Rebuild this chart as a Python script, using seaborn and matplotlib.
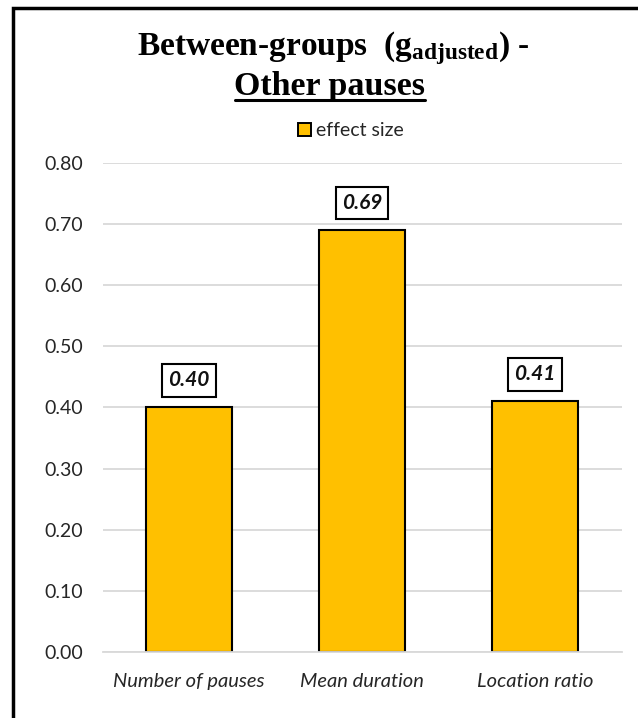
import matplotlib
matplotlib.use("Agg")
import matplotlib.pyplot as plt
import matplotlib.patches as mpatches
from matplotlib.lines import Line2D
import pandas as pd
import seaborn as sns

categories = ["Number of pauses", "Mean duration", "Location ratio"]
effect_size = [0.40, 0.69, 0.41]
y_ticks = [0.0, 0.1, 0.2, 0.3, 0.4, 0.5, 0.6, 0.7, 0.8]
series_name = "effect size"

BAR_COLOR = "#FFC000"
GRID_COLOR = "#D9D9D9"
TEXT_COLOR = "#262626"

sns.set_theme(style="white")
plt.rcParams["font.family"] = ["Lato", "DejaVu Sans"]
plt.rcParams["mathtext.fontset"] = "custom"
plt.rcParams["mathtext.rm"] = "Liberation Serif:bold"
plt.rcParams["mathtext.it"] = "Liberation Serif:bold"
plt.rcParams["mathtext.bf"] = "Liberation Serif:bold"

W, H = 638, 718
fig = plt.figure(figsize=(W / 100, H / 100), dpi=100)
fig.patch.set_facecolor("white")

ax = fig.add_axes([102.5 / W, (H - 652) / H, 519 / W, 489 / H])

df = pd.DataFrame({"category": categories, "value": effect_size})
sns.barplot(data=df, x="category", y="value", color=BAR_COLOR, width=0.5,
            edgecolor="black", linewidth=1.5, saturation=1, ax=ax)

ax.set_ylim(0, 0.8)
ax.set_xlim(-0.5, len(categories) - 0.5)
ax.set_yticks(y_ticks)
ax.set_yticklabels([f"{t:.2f}" for t in y_ticks])
ax.set_xlabel("")
ax.set_ylabel("")
ax.yaxis.grid(True, color=GRID_COLOR, linewidth=1.3)
ax.set_axisbelow(True)
for side in ["left", "right", "top"]:
    ax.spines[side].set_visible(False)
ax.spines["bottom"].set_color(GRID_COLOR)
ax.spines["bottom"].set_linewidth(1.3)
ax.tick_params(axis="y", length=0, pad=14, labelsize=14, labelcolor=TEXT_COLOR)
ax.tick_params(axis="x", length=0, pad=15, labelsize=14.5, labelcolor=TEXT_COLOR)
for lbl in ax.get_xticklabels():
    lbl.set_fontstyle("italic")

# value labels in boxes above each bar
for i, v in enumerate(effect_size):
    ax.annotate(f"{v:.2f}", xy=(i, v), xytext=(0, 19.5), textcoords="offset points",
                ha="center", va="center", fontsize=15, fontweight="bold",
                fontstyle="italic", color="#111111",
                bbox=dict(boxstyle="square,pad=0.3", facecolor="white",
                          edgecolor="black", linewidth=1.5))

# legend centred above the plot
handle = mpatches.Patch(facecolor=BAR_COLOR, edgecolor="black", linewidth=1.4,
                        label=series_name)
fig.legend(handles=[handle], loc="center", bbox_to_anchor=(351 / W, (H - 131) / H),
           frameon=False, fontsize=14, handlelength=0.65, handleheight=0.65,
           handletextpad=0.25, borderaxespad=0)

# two-line title, second line underlined
fig.text(333 / W, (H - 48) / H, r"Between-groups  ($\mathrm{g}_{\mathrm{adjusted}}$) -",
         ha="center", va="center", fontsize=24, family="Liberation Serif",
         fontweight="bold", color="black")
t2 = fig.text(330 / W, (H - 86) / H, "Other pauses", ha="center", va="center",
              fontsize=24.5, family="Liberation Serif", fontweight="bold", color="black")

fig.canvas.draw()
bb = t2.get_window_extent(renderer=fig.canvas.get_renderer())
uy = (bb.y0 + 2) / H
fig.add_artist(Line2D([bb.x0 / W, bb.x1 / W], [uy, uy], transform=fig.transFigure,
                      color="black", linewidth=2.2))

# outer frame
fig.add_artist(mpatches.Rectangle((13 / W, -0.05), 1.1, (H - 8) / H + 0.05,
                                  transform=fig.transFigure, fill=False,
                                  edgecolor="black", linewidth=2.5, clip_on=False))

fig.savefig("out.png", dpi=100)
